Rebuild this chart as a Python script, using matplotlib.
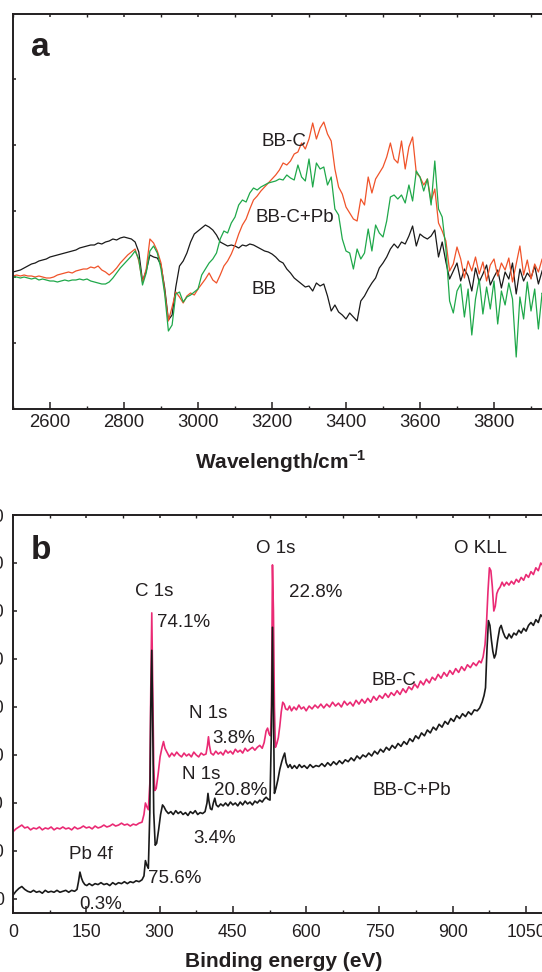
import numpy as np
import matplotlib
matplotlib.use('Agg')
import matplotlib.pyplot as plt
from matplotlib.ticker import MultipleLocator

plt.rcParams['font.family'] = ['Liberation Sans', 'DejaVu Sans']
plt.rcParams['mathtext.fontset'] = 'custom'
plt.rcParams['mathtext.rm'] = 'Liberation Sans'
plt.rcParams['mathtext.bf'] = 'Liberation Sans:bold'

# --- FTIR spectra (panel a), sampled every 10 cm-1 from 2500 to 3940 ---
ftir_wn = np.arange(2500, 3941, 10)

ftir_bb = [
    137, 138, 139, 141, 143, 145, 146, 148, 149, 150,
    152, 153, 154, 155, 156, 157, 158, 159, 161, 162,
    163, 164, 164, 166, 165, 167, 168, 170, 169, 171,
    172, 171, 170, 167, 157, 128, 138, 154, 152, 151,
    144, 121, 89, 94, 122, 143, 148, 156, 167, 175,
    178, 181, 184, 182, 179, 174, 167, 165, 163, 164,
    163, 161, 164, 163, 165, 164, 162, 160, 158, 157,
    155, 152, 148, 146, 140, 136, 131, 128, 125, 122,
    123, 118, 126, 123, 125, 113, 98, 104, 97, 94,
    90, 96, 92, 88, 108, 113, 120, 126, 131, 141,
    146, 152, 160, 165, 161, 167, 165, 173, 183, 163,
    175, 172, 170, 173, 179, 152, 167, 147, 130, 138,
    146, 128, 140, 133, 118, 141, 127, 135, 144, 124,
    132, 139, 121, 137, 130, 146, 115, 140, 128, 136,
    131, 143, 125, 138, 147,
]

ftir_bbc = [
    133, 134, 133, 134, 133, 133, 132, 133, 132, 131,
    131, 132, 134, 135, 136, 137, 136, 138, 139, 140,
    140, 142, 141, 143, 139, 137, 134, 137, 141, 146,
    150, 154, 157, 160, 148, 127, 140, 170, 166, 158,
    146, 118, 88, 102, 117, 112, 106, 113, 116, 114,
    120, 125, 130, 136, 129, 126, 134, 143, 148, 155,
    164, 175, 184, 190, 200, 209, 213, 218, 222, 226,
    230, 234, 239, 246, 244, 248, 255, 257, 266, 260,
    270, 286, 270, 281, 287, 275, 268, 240, 222, 215,
    202, 196, 190, 188, 210, 204, 232, 216, 230, 236,
    242, 252, 266, 250, 246, 268, 240, 262, 272, 236,
    232, 224, 230, 208, 220, 186, 178, 168, 138, 145,
    162, 150, 131, 148, 138, 152, 135, 147, 128, 144,
    150, 133, 146, 139, 151, 127, 145, 163, 134, 149,
    130, 145, 137, 150, 141,
]

ftir_bbcpb = [
    132, 132, 131, 132, 131, 130, 131, 129, 130, 129,
    128, 128, 127, 128, 129, 128, 129, 129, 130, 129,
    130, 128, 127, 126, 125, 125, 127, 131, 136, 141,
    145, 149, 153, 158, 150, 124, 136, 158, 163, 156,
    140, 115, 78, 84, 115, 117, 107, 112, 114, 117,
    120, 134, 140, 146, 150, 156, 170, 178, 176, 186,
    192, 204, 209, 207, 216, 221, 219, 222, 224, 226,
    227, 228, 230, 229, 234, 231, 229, 244, 232, 228,
    250, 222, 246, 240, 242, 224, 232, 200, 194, 170,
    158, 156, 140, 160, 150, 156, 180, 158, 184, 176,
    172, 188, 212, 214, 210, 214, 206, 224, 208, 238,
    232, 218, 230, 204, 248, 200, 192, 160, 108, 96,
    118, 125, 92, 120, 74, 110, 130, 95, 122, 100,
    128, 85, 118, 104, 126, 110, 52, 112, 90, 127,
    98, 120, 80, 116, 106,
]

# --- XPS survey spectra (panel b): (binding energy eV, intensity) ---
xps_bbc = [
    (0, 70), (6, 73), (12, 75), (18, 77), (24, 74), (30, 75), (36, 72), (42, 74),
    (48, 73), (54, 75), (60, 72), (66, 74), (72, 73), (78, 75), (84, 72), (90, 74),
    (96, 73), (102, 75), (108, 73), (114, 74), (120, 72), (126, 75), (132, 73),
    (138, 74), (144, 76), (150, 74), (156, 75), (162, 73), (168, 76), (174, 74),
    (180, 75), (186, 77), (192, 75), (198, 76), (204, 78), (210, 76), (216, 77),
    (222, 79), (228, 77), (234, 78), (240, 76), (246, 78), (252, 77), (258, 79),
    (264, 80), (268, 88), (271, 100), (274, 96), (277, 93), (280, 120), (282, 220),
    (284, 298), (286, 220), (288, 140), (290, 113), (293, 115), (297, 130),
    (301, 148), (305, 158), (308, 164), (311, 157), (315, 153), (320, 148),
    (325, 152), (330, 149), (335, 153), (340, 150), (345, 148), (350, 152),
    (355, 149), (360, 151), (365, 148), (370, 153), (375, 150), (380, 148),
    (385, 152), (390, 150), (395, 151), (398, 160), (400, 169), (402, 160),
    (405, 152), (410, 150), (415, 154), (420, 151), (425, 153), (430, 150),
    (435, 155), (440, 152), (445, 154), (450, 151), (455, 156), (460, 153),
    (465, 155), (470, 152), (475, 157), (480, 154), (485, 156), (490, 158),
    (495, 155), (500, 158), (505, 160), (510, 157), (514, 163), (518, 175),
    (521, 178), (524, 172), (527, 170), (529, 200), (531, 348), (533, 300),
    (535, 200), (537, 158), (540, 162), (543, 168), (546, 180), (549, 195),
    (552, 205), (555, 203), (558, 198), (562, 197), (566, 201), (570, 196),
    (575, 200), (580, 197), (585, 202), (590, 198), (595, 200), (600, 196),
    (606, 201), (612, 198), (618, 202), (624, 199), (630, 203), (636, 199),
    (642, 203), (648, 200), (654, 205), (660, 201), (666, 204), (672, 200),
    (678, 206), (684, 202), (690, 205), (696, 201), (702, 207), (708, 203),
    (714, 208), (720, 204), (726, 209), (732, 205), (738, 211), (744, 207),
    (750, 212), (756, 209), (762, 214), (768, 210), (774, 215), (780, 212),
    (786, 217), (792, 213), (798, 219), (804, 215), (810, 221), (816, 218),
    (822, 224), (828, 220), (834, 227), (840, 223), (846, 229), (852, 225),
    (858, 231), (864, 228), (870, 234), (876, 230), (882, 236), (888, 232),
    (894, 238), (900, 234), (906, 240), (912, 236), (918, 242), (924, 238),
    (930, 244), (936, 241), (942, 246), (948, 243), (954, 248), (958, 246),
    (962, 252), (966, 265), (969, 287), (972, 320), (975, 345), (978, 342),
    (981, 325), (984, 300), (987, 305), (990, 318), (993, 322), (997, 325),
    (1001, 330), (1005, 326), (1010, 330), (1015, 327), (1020, 331), (1025, 328),
    (1030, 333), (1035, 330), (1040, 335), (1045, 332), (1050, 338), (1055, 335),
    (1060, 341), (1065, 338), (1070, 345), (1075, 342), (1080, 350), (1085, 347),
    (1090, 355), (1095, 352), (1100, 358),
]

xps_bbcpb = [
    (0, 4), (6, 8), (12, 11), (18, 13), (24, 10), (30, 8), (36, 7), (42, 9),
    (48, 7), (54, 8), (60, 6), (66, 9), (72, 7), (78, 8), (84, 7), (90, 9),
    (96, 7), (102, 8), (108, 9), (114, 7), (120, 9), (126, 8), (131, 10),
    (134, 18), (137, 28), (140, 22), (143, 18), (147, 15), (151, 14), (156, 16),
    (162, 14), (168, 16), (174, 15), (180, 17), (186, 15), (192, 16), (198, 14),
    (204, 17), (210, 15), (216, 17), (222, 16), (228, 18), (234, 16), (240, 18),
    (246, 17), (252, 19), (258, 18), (264, 20), (268, 24), (271, 40), (274, 35),
    (277, 32), (280, 90), (282, 200), (284, 259), (286, 180), (288, 90),
    (291, 56), (294, 58), (298, 72), (302, 88), (306, 98), (309, 96), (313, 92),
    (318, 89), (323, 91), (328, 88), (333, 92), (338, 89), (343, 91), (348, 88),
    (353, 90), (358, 87), (363, 91), (368, 89), (373, 92), (378, 88), (383, 90),
    (388, 89), (393, 91), (397, 100), (399, 110), (401, 102), (404, 94),
    (407, 93), (410, 100), (413, 105), (416, 98), (420, 96), (425, 99),
    (430, 97), (435, 100), (440, 97), (445, 101), (450, 98), (455, 100),
    (460, 97), (465, 101), (470, 98), (475, 102), (480, 99), (485, 101),
    (490, 98), (495, 102), (500, 100), (505, 103), (510, 101), (514, 104),
    (518, 106), (522, 104), (526, 103), (529, 180), (531, 283), (533, 200),
    (535, 110), (538, 115), (542, 124), (546, 135), (550, 143), (553, 148),
    (556, 152), (559, 142), (563, 137), (567, 140), (571, 136), (576, 139),
    (581, 136), (586, 140), (591, 137), (596, 139), (602, 136), (608, 140),
    (614, 137), (620, 139), (626, 138), (632, 141), (638, 138), (644, 142),
    (650, 139), (656, 143), (662, 140), (668, 144), (674, 141), (680, 145),
    (686, 143), (692, 147), (698, 144), (704, 149), (710, 146), (716, 150),
    (722, 148), (728, 152), (734, 149), (740, 154), (746, 151), (752, 156),
    (758, 153), (764, 158), (770, 155), (776, 160), (782, 157), (788, 162),
    (794, 159), (800, 164), (806, 161), (812, 167), (818, 164), (824, 170),
    (830, 167), (836, 173), (842, 170), (848, 176), (854, 173), (860, 179),
    (866, 176), (872, 182), (878, 179), (884, 185), (890, 182), (896, 188),
    (902, 185), (908, 191), (914, 188), (920, 193), (926, 190), (932, 195),
    (938, 192), (944, 197), (950, 196), (955, 199), (960, 205), (964, 212),
    (967, 220), (970, 260), (973, 290), (976, 285), (979, 270), (982, 258),
    (985, 251), (988, 255), (992, 270), (996, 282), (999, 285), (1003, 278),
    (1007, 273), (1011, 271), (1015, 276), (1020, 272), (1025, 277), (1030, 275),
    (1035, 280), (1040, 277), (1045, 282), (1050, 279), (1055, 285), (1060, 288),
    (1065, 285), (1070, 291), (1075, 288), (1080, 296), (1085, 293), (1090, 300),
    (1095, 297), (1100, 303),
]

ink = '#231f20'
c_black = '#1a1a1a'
c_red = '#f0532a'
c_green = '#1fa84a'
c_pink = '#ea2a74'

W, H = 542.0, 972.0
fig = plt.figure(figsize=(W / 100, H / 100), dpi=100)


def px_axes(left, top, right, bottom):
    return fig.add_axes([left / W, 1 - bottom / H, (right - left) / W, (bottom - top) / H])


def style_axes(ax, lab_size, xpad, ypad):
    for s in ax.spines.values():
        s.set_linewidth(1.4)
        s.set_color(ink)
    ax.tick_params(which='major', direction='in', length=5, width=1.1, color=ink,
                   top=True, labelsize=lab_size, labelcolor=ink)
    ax.tick_params(which='minor', direction='in', length=2.5, width=1.0, color=ink, top=True)
    ax.tick_params(axis='x', pad=xpad)
    ax.tick_params(axis='y', pad=ypad)
    # ticks along the top edge are all short
    for t in ax.xaxis.get_major_ticks():
        t.tick2line.set_markersize(2.5)


# panel a: FTIR
ax1 = px_axes(13, 14, 568, 409)
ax1.plot(ftir_wn, ftir_bb, color=c_black, lw=0.9)
ax1.plot(ftir_wn, ftir_bbc, color=c_red, lw=0.9)
ax1.plot(ftir_wn, ftir_bbcpb, color=c_green, lw=0.9)
ax1.set_xlim(2500, 4000)
ax1.set_ylim(0, 395)
ax1.xaxis.set_major_locator(MultipleLocator(200))
ax1.xaxis.set_minor_locator(MultipleLocator(100))
ax1.set_yticks([66, 132, 198, 264, 330])
ax1.set_yticklabels([])
style_axes(ax1, 13.3, 3.5, 4)
ax1.tick_params(axis='y', length=2.5)

ax1.text(2573, 361, 'a', fontsize=24, fontweight='bold', color=ink, ha='center', va='center')
ax1.text(3232, 268, 'BB-C', fontsize=13.5, color=ink, ha='center', va='center')
ax1.text(3262, 192, 'BB-C+Pb', fontsize=13.5, color=ink, ha='center', va='center')
ax1.text(3178, 119, 'BB', fontsize=13.5, color=ink, ha='center', va='center')
fig.text(281 / W, 1 - 462 / H, 'Wavelength/cm$^{\\mathbf{-1}}$', fontsize=15,
         fontweight='bold', color=ink, ha='center', va='center')

# panel b: XPS survey
ev_c, cnt_c = np.array(xps_bbc).T
ev_p, cnt_p = np.array(xps_bbcpb).T
ax2 = px_axes(13, 515, 550.5, 913)
ax2.plot(ev_c, cnt_c, color=c_pink, lw=1.2)
ax2.plot(ev_p, cnt_p, color=c_black, lw=1.2)
ax2.set_xlim(0, 1100)
ax2.set_ylim(-14.6, 400)
ax2.xaxis.set_major_locator(MultipleLocator(150))
ax2.xaxis.set_minor_locator(MultipleLocator(75))
ax2.yaxis.set_major_locator(MultipleLocator(50))
style_axes(ax2, 12.7, 8, 6.5)
ax2.tick_params(axis='y', length=3)

labels_b = [
    (57, 363, 'b', 24, 'bold'),
    (288, 320, 'C 1s', 13.5, 'normal'),
    (350, 288, '74.1%', 13.5, 'normal'),
    (538, 365, 'O 1s', 13.5, 'normal'),
    (620, 319, '22.8%', 13.5, 'normal'),
    (957, 365, 'O KLL', 13.5, 'normal'),
    (399, 193, 'N 1s', 13.5, 'normal'),
    (452, 167, '3.8%', 13.5, 'normal'),
    (780, 228, 'BB-C', 13.5, 'normal'),
    (385, 130, 'N 1s', 13.5, 'normal'),
    (466, 113, '20.8%', 13.5, 'normal'),
    (413, 63, '3.4%', 13.5, 'normal'),
    (160, 46, 'Pb 4f', 13.5, 'normal'),
    (331, 21, '75.6%', 13.5, 'normal'),
    (180, -6, '0.3%', 13.5, 'normal'),
    (816, 113, 'BB-C+Pb', 13.5, 'normal'),
]
for x, y, s, fs, fw in labels_b:
    ax2.text(x, y, s, fontsize=fs, fontweight=fw, color=ink, ha='center', va='center')

fig.text(284 / W, 1 - 961 / H, 'Binding energy (eV)', fontsize=15,
         fontweight='bold', color=ink, ha='center', va='center')

fig.savefig('out.png', dpi=100)
